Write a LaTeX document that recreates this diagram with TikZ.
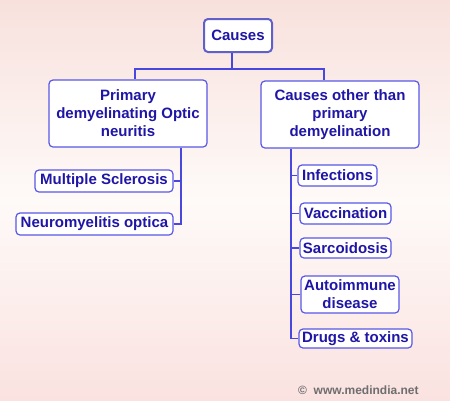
\documentclass[tikz,border=0pt]{standalone}
\usepackage{fontspec}
\setmainfont{Liberation Sans}
\definecolor{bgtop}{RGB}{248,225,221}
\definecolor{bgmid}{RGB}{254,250,248}
\definecolor{bgbot}{RGB}{250,226,224}
\definecolor{boxblue}{RGB}{88,88,230}
\definecolor{rootblue}{RGB}{96,96,200}
\definecolor{lineblue}{RGB}{72,72,222}
\definecolor{textblue}{RGB}{32,22,165}
\definecolor{copygray}{RGB}{110,110,110}
\begin{document}
\begin{tikzpicture}[x=1pt,y=-1pt,
  box/.style={draw=boxblue, fill=white, rounded corners=4pt, line width=1.2pt,
    text=textblue, font=\fontsize{15}{18}\selectfont\bfseries, align=center,
    inner sep=0pt},
  conn/.style={draw=lineblue, line width=1.5pt}]
\shade[top color=bgtop, bottom color=bgbot, middle color=bgmid] (0,0) rectangle (450,400);
\useasboundingbox (0,0) rectangle (450,400);

\node[box, draw=rootblue, line width=2pt, minimum width=68pt, minimum height=33pt] (causes) at (238,35.5) {Causes};
\node[box, minimum width=158pt, minimum height=67pt] (prim) at (128,113.5) {Primary\\demyelinating Optic\\neuritis};
\node[box, minimum width=158pt, minimum height=67pt] (other) at (340,114.5) {Causes other than\\primary\\demyelination};

\node[box, minimum width=138pt, minimum height=22pt] (ms) at (104,181) {Multiple Sclerosis};
\node[box, minimum width=157pt, minimum height=22pt] (nmo) at (94.5,224) {Neuromyelitis optica};

\node[box, minimum width=79pt, minimum height=21pt] (inf) at (337.5,175.5) {Infections};
\node[box, minimum width=91pt, minimum height=21pt] (vac) at (345.5,213.5) {Vaccination};
\node[box, minimum width=91pt, minimum height=20pt] (sar) at (345.5,248) {Sarcoidosis};
\node[box, minimum width=98pt, minimum height=37pt] (auto) at (350,294.5) {Autoimmune\\disease};
\node[box, minimum width=113pt, minimum height=19pt] (drugs) at (355.5,338.5) {Drugs \& toxins};

\coordinate (j) at (232,69);
\coordinate (hl) at (135,69);
\coordinate (hr) at (324,69);
\coordinate (lt) at (181,0);
\coordinate (rt) at (291,0);

\draw[conn] (causes.south -| j) -- (j);
\draw[conn] (hl |- prim.north) -- (hl) -- (hr) -- (hr |- other.north);

\draw[conn] (prim.south -| lt) -- (nmo.east -| lt) -- (nmo.east);
\draw[conn] (ms.east) -- (ms.east -| lt);

\draw[conn] (other.south -| rt) -- (drugs.west -| rt) -- (drugs.west);
\draw[conn] (inf.west) -- (inf.west -| rt);
\draw[conn] (vac.west) -- (vac.west -| rt);
\draw[conn] (sar.west) -- (sar.west -| rt);
\draw[conn] (auto.west) -- (auto.west -| rt);

\node[text=copygray, font=\fontsize{12}{14}\selectfont\bfseries, anchor=west, inner sep=0pt] (copy) at (298,390) {©\ \ www.medindia.net};
\end{tikzpicture}
\end{document}
